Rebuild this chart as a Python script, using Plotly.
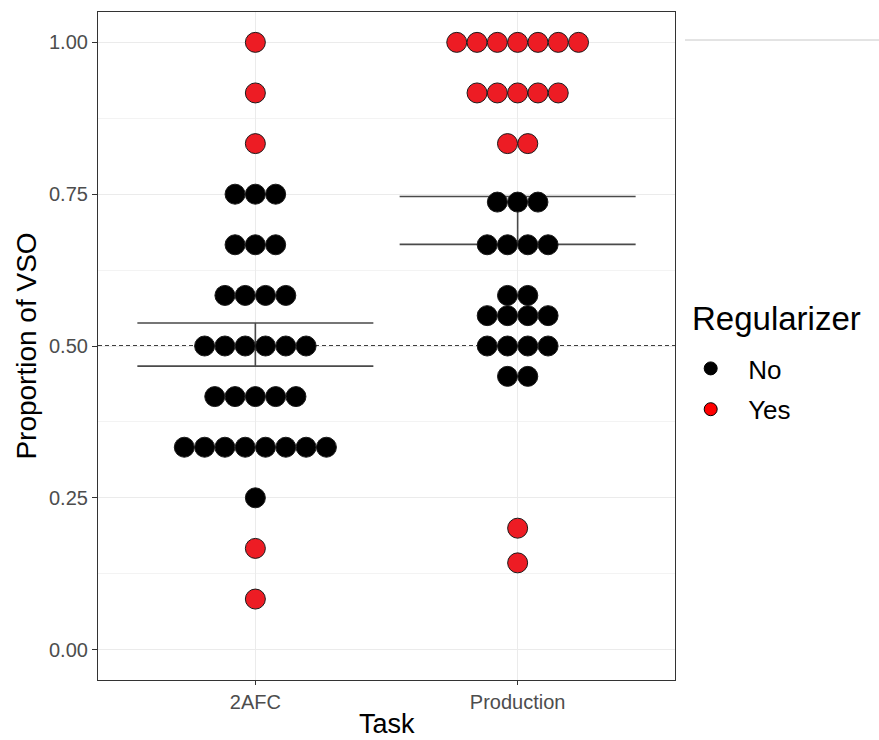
import plotly.graph_objects as go

# ---------------- data ----------------
tasks = ["2AFC", "Production"]

afc_values = [1.0, 0.9167, 0.8333, 0.75, 0.6667, 0.5833, 0.5, 0.4167, 0.3333, 0.25, 0.1667, 0.0833]
afc_counts = [1, 1, 1, 3, 3, 4, 6, 5, 8, 1, 1, 1]
afc_regularizer = ["Yes", "Yes", "Yes", "No", "No", "No", "No", "No", "No", "No", "Yes", "Yes"]

prod_values = [1.0, 0.9167, 0.8333, 0.737, 0.6667, 0.5833, 0.55, 0.5, 0.45, 0.2, 0.1429]
prod_counts = [7, 5, 2, 3, 4, 2, 4, 4, 2, 1, 1]
prod_regularizer = ["Yes", "Yes", "Yes", "No", "No", "No", "No", "No", "No", "Yes", "Yes"]

means = [0.5024, 0.7068]
err_half = [0.0355, 0.0395]

y_ticks = [0.0, 0.25, 0.5, 0.75, 1.0]
y_ticktext = ["0.00", "0.25", "0.50", "0.75", "1.00"]
reference_level = 0.5
legend_levels = ["No", "Yes"]
x_title = "Task"
y_title = "Proportion of VSO"
legend_title = "Regularizer"

# ---------------- styles ----------------
colors = {"No": "#000000", "Yes": "#ED1C24"}
legend_colors = {"No": "#000000", "Yes": "#FF0000"}
FONT = "Liberation Sans, Arial, sans-serif"
DOT_STEP = 0.0774   # horizontal spacing of stacked dots (x units)
DOT_SIZE = 20

W, H = 879, 740
ML, MR, MT, MB = 98, 204, 12, 60
PW, PH = W - ML - MR, H - MT - MB

fig = go.Figure()

# error bars (drawn first, under dots)
fig.add_trace(go.Scatter(
    x=[i + 1 for i in range(len(tasks))], y=means, mode="markers",
    marker=dict(size=1, color="rgba(0,0,0,0)"),
    error_y=dict(type="data", array=err_half, visible=True,
                 color="#4a4a4a", thickness=1.6, width=118),
    showlegend=False, hoverinfo="skip"))

def stacked(values, counts, regs, xc):
    out = {"No": ([], []), "Yes": ([], [])}
    for v, n, r in zip(values, counts, regs):
        for k in range(n):
            out[r][0].append(xc + (k - (n - 1) / 2) * DOT_STEP)
            out[r][1].append(v)
    return out

groups = [stacked(afc_values, afc_counts, afc_regularizer, 1),
          stacked(prod_values, prod_counts, prod_regularizer, 2)]

for g in groups:
    for r in legend_levels:
        xs, ys = g[r]
        fig.add_trace(go.Scatter(
            x=xs, y=ys, mode="markers",
            marker=dict(size=DOT_SIZE, color=colors[r],
                        line=dict(color="#1a1a1a", width=1)),
            showlegend=False, hoverinfo="skip"))

# legend entries
for r in legend_levels:
    fig.add_trace(go.Scatter(
        x=[None], y=[None], mode="markers", name="\u00a0\u00a0" + r, legendgroup=r,
        marker=dict(size=13, color=legend_colors[r], line=dict(color="#000", width=1))))

fig.add_shape(type="line", xref="paper", yref="y", x0=0, x1=1,
              y0=reference_level, y1=reference_level, layer="between",
              line=dict(color="#000", width=1.3, dash="4px,3px"))

# stray grey rule at top right of the reference image
fig.add_shape(type="line", xref="paper", yref="paper",
              x0=(685 - ML) / PW, x1=(879 - ML) / PW,
              y0=(H - MB - 40) / PH, y1=(H - MB - 40) / PH,
              line=dict(color="#c8c8c8", width=1))

# legend title
fig.add_annotation(text=legend_title, xref="paper", yref="paper",
                   x=(690 - ML) / PW, y=(H - MB - 318) / PH,
                   xanchor="left", yanchor="middle", showarrow=False,
                   font=dict(size=33, color="#000", family=FONT))

# x-axis title
fig.add_annotation(text=x_title, xref="paper", yref="paper",
                   x=0.5, y=(H - MB - 724) / PH,
                   xanchor="center", yanchor="middle", showarrow=False,
                   font=dict(size=27, color="#000", family=FONT))

fig.update_layout(
    width=W, height=H,
    margin=dict(l=ML, r=MR, t=MT, b=MB, pad=0),
    paper_bgcolor="white", plot_bgcolor="white",
    font=dict(family=FONT, color="#000"),
    legend=dict(font=dict(size=26, color="#000"),
                x=1.022, xanchor="left", y=(H - MB - 345) / PH, yanchor="top",
                traceorder="grouped", tracegroupgap=4, itemwidth=36,
                bgcolor="rgba(0,0,0,0)", itemsizing="trace"),
    xaxis=dict(range=[0.4, 2.6], tickvals=[1, 2], ticktext=tasks, automargin=False,
               showgrid=True, gridcolor="#EBEBEB", gridwidth=1.1, zeroline=False,
               showline=True, linecolor="#333333", linewidth=1.2, mirror=True,
               ticks="outside", ticklen=4, tickcolor="#333333",
               tickfont=dict(size=20, color="#4D4D4D")),
    yaxis=dict(range=[-0.05, 1.05], tickvals=y_ticks, ticktext=y_ticktext, automargin=False,
               showgrid=True, gridcolor="#EBEBEB", gridwidth=1.1, zeroline=False,
               minor=dict(tickvals=[0.125, 0.375, 0.625, 0.875], showgrid=True,
                          gridcolor="#F3F3F3", gridwidth=0.8, ticks=""),
               showline=True, linecolor="#333333", linewidth=1.2, mirror=True,
               ticks="outside", ticklen=5, tickcolor="#333333",
               tickfont=dict(size=20, color="#4D4D4D"),
               title=dict(text=y_title, font=dict(size=28, color="#000"), standoff=4)),
)

fig.write_html("out.html")
